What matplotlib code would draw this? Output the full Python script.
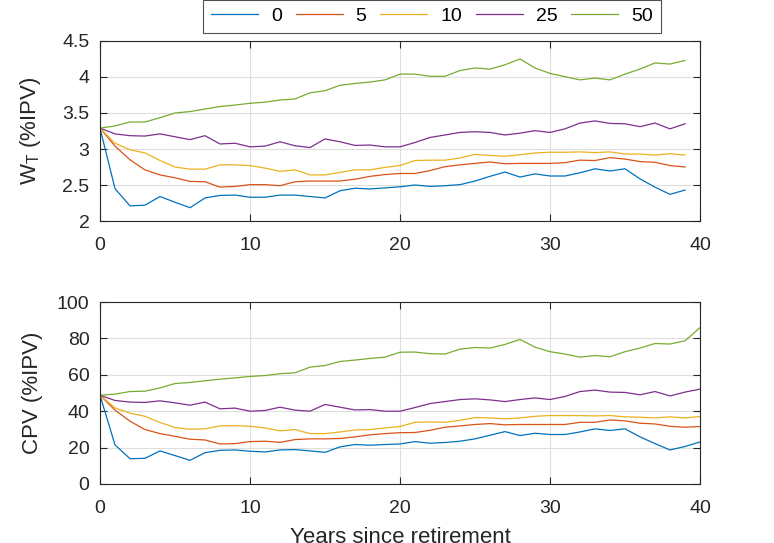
import matplotlib
matplotlib.use("Agg")
import matplotlib.pyplot as plt
import numpy as np

plt.rcParams['font.family'] = ['Liberation Sans', 'DejaVu Sans']

labels = ['0', '5', '10', '25', '50']
colors = ['#0072BD', '#D95319', '#EDB120', '#7E2F8E', '#77AC30']

years_w = list(range(0, 40))
years_c = list(range(0, 41))

w_0 = [3.29, 2.45, 2.21, 2.22, 2.34, 2.26, 2.185, 2.32, 2.355, 2.36, 2.33, 2.33, 2.36, 2.36, 2.34, 2.32,
       2.42, 2.455, 2.445, 2.46, 2.475, 2.5, 2.48, 2.49, 2.505, 2.555, 2.62, 2.68, 2.61, 2.655, 2.625,
       2.625, 2.67, 2.725, 2.695, 2.725, 2.585, 2.47, 2.37, 2.43]
w_5 = [3.29, 3.04, 2.85, 2.71, 2.64, 2.6, 2.55, 2.545, 2.47, 2.48, 2.505, 2.505, 2.49, 2.545, 2.555, 2.555,
       2.555, 2.58, 2.62, 2.645, 2.66, 2.66, 2.7, 2.755, 2.78, 2.8, 2.82, 2.795, 2.8, 2.8, 2.8,
       2.81, 2.845, 2.84, 2.88, 2.86, 2.825, 2.815, 2.77, 2.75]
w_10 = [3.29, 3.08, 2.99, 2.945, 2.84, 2.75, 2.72, 2.72, 2.78, 2.78, 2.77, 2.735, 2.69, 2.71, 2.64, 2.64,
        2.675, 2.71, 2.71, 2.745, 2.77, 2.84, 2.845, 2.845, 2.875, 2.925, 2.91, 2.9, 2.92, 2.945, 2.955,
        2.955, 2.96, 2.95, 2.96, 2.93, 2.93, 2.915, 2.935, 2.915]
w_25 = [3.29, 3.21, 3.185, 3.18, 3.21, 3.17, 3.13, 3.185, 3.07, 3.08, 3.03, 3.04, 3.1, 3.045, 3.02, 3.14,
        3.1, 3.05, 3.055, 3.03, 3.03, 3.09, 3.16, 3.195, 3.23, 3.24, 3.23, 3.195, 3.22, 3.255, 3.23,
        3.28, 3.36, 3.39, 3.355, 3.35, 3.31, 3.36, 3.28, 3.35]
w_50 = [3.29, 3.32, 3.375, 3.375, 3.435, 3.5, 3.52, 3.555, 3.59, 3.61, 3.635, 3.65, 3.68, 3.695, 3.78, 3.81,
        3.885, 3.91, 3.93, 3.96, 4.04, 4.04, 4.01, 4.01, 4.09, 4.125, 4.11, 4.17, 4.25, 4.125, 4.05,
        4.005, 3.96, 3.985, 3.96, 4.04, 4.11, 4.195, 4.18, 4.23]

c_0 = [48.8, 21.5, 13.9, 14.1, 18.2, 15.6, 13.0, 17.2, 18.5, 18.7, 18.0, 17.6, 18.7, 18.9, 18.2, 17.4,
       20.4, 21.7, 21.3, 21.7, 22.0, 23.3, 22.4, 22.8, 23.5, 24.8, 26.8, 28.8, 26.6, 27.9, 27.2,
       27.2, 28.6, 30.3, 29.4, 30.3, 25.9, 22.2, 18.7, 20.6, 23.1]
c_5 = [48.8, 40.6, 34.5, 29.9, 27.7, 26.2, 24.6, 24.2, 22.0, 22.2, 23.3, 23.5, 22.9, 24.4, 24.8, 24.8,
       25.0, 25.9, 27.0, 27.7, 28.2, 28.3, 29.5, 31.2, 31.9, 32.7, 33.2, 32.5, 32.7, 32.7, 32.7,
       32.7, 33.9, 33.9, 35.2, 34.7, 33.4, 33.0, 31.7, 31.2, 31.6]
c_10 = [48.8, 41.8, 38.9, 37.2, 33.8, 31.0, 30.1, 30.3, 31.9, 32.1, 31.7, 30.8, 29.2, 29.9, 27.7, 27.7,
        28.6, 29.7, 29.9, 30.8, 31.6, 33.9, 34.1, 33.9, 35.0, 36.5, 36.3, 35.8, 36.3, 37.2, 37.6,
        37.6, 37.6, 37.4, 37.6, 36.9, 36.7, 36.3, 36.9, 36.3, 37.1]
c_25 = [48.8, 45.9, 45.0, 44.8, 45.7, 44.6, 43.3, 45.0, 41.3, 41.7, 40.0, 40.4, 42.2, 40.6, 40.0, 43.7,
        42.2, 40.7, 40.9, 40.0, 40.0, 42.0, 44.2, 45.3, 46.4, 46.8, 46.2, 45.3, 46.4, 47.3, 46.4,
        48.1, 50.8, 51.6, 50.5, 50.3, 49.0, 50.8, 48.4, 50.5, 52.1]
c_50 = [48.8, 49.4, 50.8, 51.0, 52.8, 55.2, 55.8, 56.7, 57.6, 58.3, 59.1, 59.6, 60.6, 61.1, 64.2, 65.1,
        67.3, 68.1, 69.0, 69.7, 72.4, 72.5, 71.6, 71.4, 74.1, 75.0, 74.7, 76.7, 79.4, 75.2, 72.7,
        71.4, 69.7, 70.6, 69.9, 72.7, 74.7, 77.2, 76.9, 78.7, 85.9]

w_series = [w_0, w_5, w_10, w_25, w_50]
c_series = [c_0, c_5, c_10, c_25, c_50]

W, H = 774, 543
fig = plt.figure(figsize=(W / 100, H / 100), dpi=100)

def ax_rect(l, t, r, b):
    return [l / W, 1 - b / H, (r - l) / W, (b - t) / H]

ax1 = fig.add_axes(ax_rect(100, 41, 700, 221))
ax2 = fig.add_axes(ax_rect(100, 302, 700, 484))

axcol = '#262626'
for ax in (ax1, ax2):
    ax.set_xlim(0, 40)
    ax.set_xticks([0, 10, 20, 30, 40])
    ax.grid(True, color='#dedede', linewidth=0.8)
    ax.set_axisbelow(True)
    ax.tick_params(direction='in', top=True, right=True, labelsize=14,
                   colors=axcol, length=5, width=0.8)
    ax.tick_params(axis='x', pad=11.5)
    ax.tick_params(axis='y', pad=7.5)
    for s in ax.spines.values():
        s.set_color(axcol)
        s.set_linewidth(0.8)

lines = []
for ys, col, lab in zip(w_series, colors, labels):
    ln, = ax1.plot(years_w, ys, color=col, linewidth=0.9, label=lab)
    lines.append(ln)
ax1.set_ylim(2, 4.5)
ax1.set_yticks([2, 2.5, 3, 3.5, 4, 4.5])
ax1.set_yticklabels(['2', '2.5', '3', '3.5', '4', '4.5'])
ax1.set_ylabel('W$_\\mathregular{T}$ (%IPV)', fontsize=16, color=axcol)
ax1.yaxis.set_label_coords(-0.095, 0.5)

for ys, col, lab in zip(c_series, colors, labels):
    ax2.plot(years_c, ys, color=col, linewidth=0.9, label=lab)
ax2.set_ylim(0, 100)
ax2.set_yticks([0, 20, 40, 60, 80, 100])
ax2.set_ylabel('CPV (%IPV)', fontsize=16, color=axcol)
ax2.yaxis.set_label_coords(-0.095, 0.5)
ax2.set_xlabel('Years since retirement', fontsize=16, color=axcol)
ax2.xaxis.set_label_coords(0.5, -0.237)

leg = fig.legend(handles=lines, labels=labels, ncol=5, loc='lower center',
                 bbox_to_anchor=(432 / W, 1 - 33 / H),
                 frameon=True, fancybox=False, fontsize=14,
                 handlelength=2.42, handletextpad=0.65, columnspacing=0.72,
                 borderaxespad=0, borderpad=0.4)
leg.get_frame().set_edgecolor(axcol)
leg.get_frame().set_linewidth(0.8)

fig.savefig('out.png', dpi=100)
